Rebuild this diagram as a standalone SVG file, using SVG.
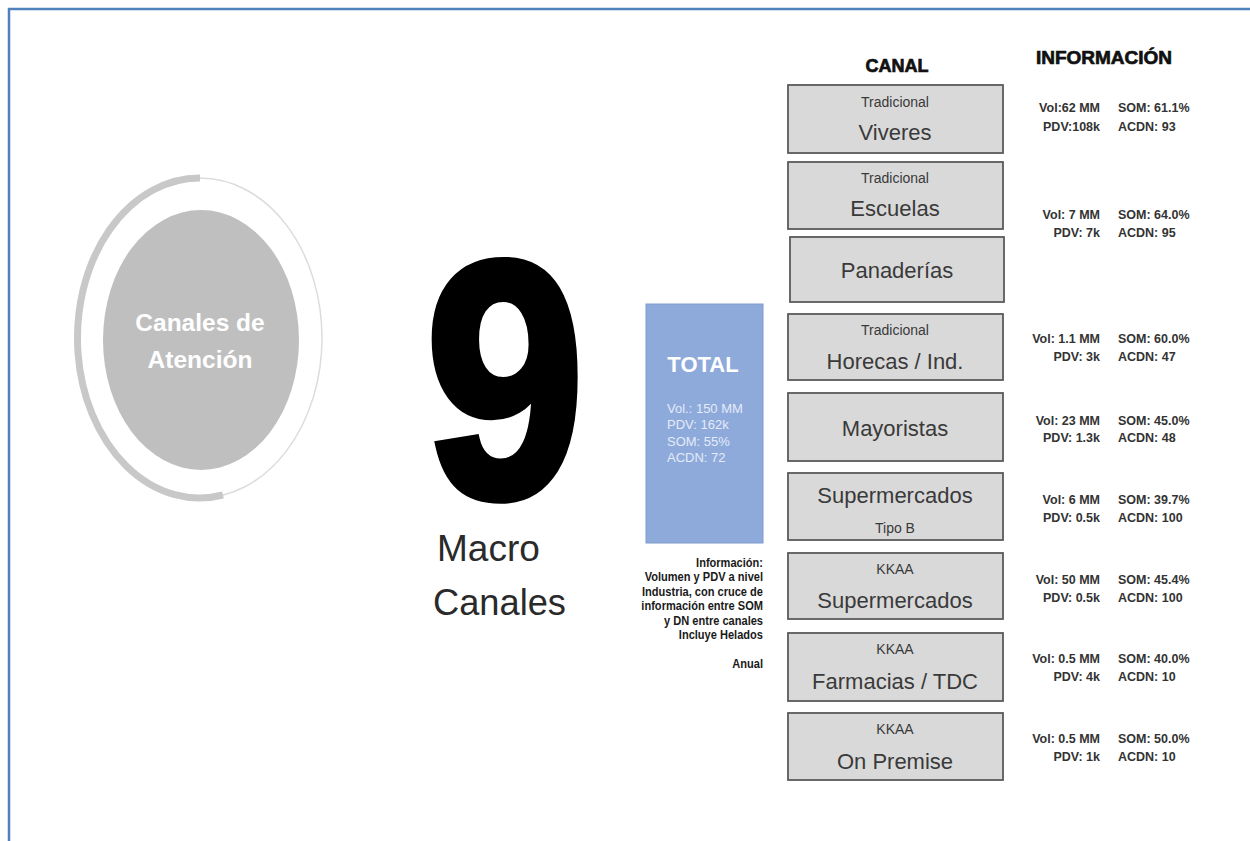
<svg xmlns="http://www.w3.org/2000/svg" width="1250" height="841" viewBox="0 0 1250 841">
<style>
.box{fill:#d9d9d9;stroke:#5a5a5a;stroke-width:1.8}
.sub{font-family:"Liberation Sans",Arial,sans-serif;font-size:14px;fill:#3a3a3a;text-anchor:middle}
.big{font-family:"Liberation Sans",Arial,sans-serif;font-size:22px;fill:#3a3a3a;text-anchor:middle}
.infl{font-family:"Liberation Sans",Arial,sans-serif;font-size:12.5px;font-weight:bold;fill:#333;text-anchor:end}
.infr{font-family:"Liberation Sans",Arial,sans-serif;font-size:12.5px;font-weight:bold;fill:#333;text-anchor:start}
.hdr{font-family:"Liberation Sans",Arial,sans-serif;font-weight:bold;fill:#111;stroke:#111;stroke-width:0.7;text-anchor:middle}
.tot{font-family:"Liberation Sans",Arial,sans-serif;font-size:13px;fill:#e4ebf8}
.note{font-family:"Liberation Sans",Arial,sans-serif;font-size:13.5px;font-weight:bold;fill:#1a1a1a;text-anchor:end}
.mc{font-family:"Liberation Sans",Arial,sans-serif;font-size:37px;fill:#2a2a2a}
</style>
<rect width="1250" height="841" fill="#ffffff"/>
<g id="frame">
<line x1="8" y1="9" x2="1250" y2="9" stroke="#4f81bd" stroke-width="2.5"/>
<line x1="9" y1="8" x2="9" y2="841" stroke="#4f81bd" stroke-width="2.5"/>
</g>
<g id="canales-atencion">
<ellipse cx="200" cy="338" rx="122" ry="160" fill="none" stroke="#dcdcdc" stroke-width="1.5"/>
<path d="M 200 178 A 122 160 0 1 0 223 495" fill="none" stroke="#c8c8c8" stroke-width="7"/>
<ellipse cx="201" cy="340" rx="98" ry="130" fill="#bfbfbf"/>
<text x="200" y="331" font-family="Liberation Sans,Arial,sans-serif" font-size="24.5" font-weight="bold" fill="#ffffff" text-anchor="middle">Canales de</text>
<text x="200" y="368" font-family="Liberation Sans,Arial,sans-serif" font-size="24.5" font-weight="bold" fill="#ffffff" text-anchor="middle">Atención</text>
</g>
<g id="nine">
<g transform="translate(505,0) scale(0.85,1)">
<text x="0" y="496" font-family="Liberation Sans,Arial,sans-serif" font-size="336" font-weight="bold" fill="#000" stroke="#000" stroke-width="9" text-anchor="middle">9</text>
</g>
<text class="mc" x="437" y="561">Macro</text>
<text class="mc" x="433" y="615" textLength="133" lengthAdjust="spacingAndGlyphs">Canales</text>
</g>
<g id="total">
<rect x="646" y="304" width="117" height="239" fill="#8eaadb" stroke="#7f9bcc" stroke-width="1"/>
<text x="703" y="372" font-family="Liberation Sans,Arial,sans-serif" font-size="22" font-weight="bold" fill="#ffffff" text-anchor="middle">TOTAL</text>
<text class="tot" x="667" y="413">Vol.: 150 MM</text>
<text class="tot" x="667" y="429">PDV: 162k</text>
<text class="tot" x="667" y="446">SOM: 55%</text>
<text class="tot" x="667" y="462">ACDN: 72</text>
</g>
<g id="nota" transform="translate(763,0) scale(0.82,1)">
<text class="note" x="0" y="567">Información:</text>
<text class="note" x="0" y="581">Volumen y PDV a nivel</text>
<text class="note" x="0" y="596">Industria, con cruce de</text>
<text class="note" x="0" y="610">información entre SOM</text>
<text class="note" x="0" y="625">y DN entre canales</text>
<text class="note" x="0" y="639">Incluye Helados</text>
<text class="note" x="0" y="668">Anual</text>
</g>
<g id="headers">
<text class="hdr" x="897" y="72" font-size="18">CANAL</text>
<text class="hdr" x="1104" y="64" font-size="19">INFORMACIÓN</text>
</g>
<g id="canal-viveres">
<rect class="box" x="788" y="85" width="215" height="68"/>
<text class="sub" x="895" y="107">Tradicional</text>
<text class="big" x="895" y="140">Viveres</text>
</g>
<g id="canal-escuelas">
<rect class="box" x="788" y="162" width="215" height="67"/>
<text class="sub" x="895" y="183">Tradicional</text>
<text class="big" x="895" y="216">Escuelas</text>
</g>
<g id="canal-panaderias">
<rect class="box" x="790" y="237" width="214" height="65"/>
<text class="big" x="897" y="278">Panaderías</text>
</g>
<g id="canal-horecas">
<rect class="box" x="788" y="314" width="215" height="66"/>
<text class="sub" x="895" y="335">Tradicional</text>
<text class="big" x="895" y="369">Horecas / Ind.</text>
</g>
<g id="canal-mayoristas">
<rect class="box" x="788" y="393" width="215" height="68"/>
<text class="big" x="895" y="436">Mayoristas</text>
</g>
<g id="canal-supermercados-b">
<rect class="box" x="788" y="473" width="215" height="67"/>
<text class="big" x="895" y="503">Supermercados</text>
<text class="sub" x="895" y="533" font-size="16">Tipo B</text>
</g>
<g id="canal-kkaa-supermercados">
<rect class="box" x="788" y="553" width="215" height="66"/>
<text class="sub" x="895" y="574">KKAA</text>
<text class="big" x="895" y="608">Supermercados</text>
</g>
<g id="canal-farmacias">
<rect class="box" x="788" y="633" width="215" height="68"/>
<text class="sub" x="895" y="654">KKAA</text>
<text class="big" x="895" y="689">Farmacias / TDC</text>
</g>
<g id="canal-on-premise">
<rect class="box" x="788" y="713" width="215" height="67"/>
<text class="sub" x="895" y="734">KKAA</text>
<text class="big" x="895" y="769">On Premise</text>
</g>
<g id="informacion">
<text class="infl" x="1100" y="112">Vol:62 MM</text><text class="infr" x="1118" y="112">SOM: 61.1%</text>
<text class="infl" x="1100" y="131">PDV:108k</text><text class="infr" x="1118" y="131">ACDN: 93</text>
<text class="infl" x="1100" y="219">Vol: 7 MM</text><text class="infr" x="1118" y="219">SOM: 64.0%</text>
<text class="infl" x="1100" y="237">PDV: 7k</text><text class="infr" x="1118" y="237">ACDN: 95</text>
<text class="infl" x="1100" y="343">Vol: 1.1 MM</text><text class="infr" x="1118" y="343">SOM: 60.0%</text>
<text class="infl" x="1100" y="361">PDV: 3k</text><text class="infr" x="1118" y="361">ACDN: 47</text>
<text class="infl" x="1100" y="425">Vol: 23 MM</text><text class="infr" x="1118" y="425">SOM: 45.0%</text>
<text class="infl" x="1100" y="442">PDV: 1.3k</text><text class="infr" x="1118" y="442">ACDN: 48</text>
<text class="infl" x="1100" y="504">Vol: 6 MM</text><text class="infr" x="1118" y="504">SOM: 39.7%</text>
<text class="infl" x="1100" y="522">PDV: 0.5k</text><text class="infr" x="1118" y="522">ACDN: 100</text>
<text class="infl" x="1100" y="584">Vol: 50 MM</text><text class="infr" x="1118" y="584">SOM: 45.4%</text>
<text class="infl" x="1100" y="602">PDV: 0.5k</text><text class="infr" x="1118" y="602">ACDN: 100</text>
<text class="infl" x="1100" y="663">Vol: 0.5 MM</text><text class="infr" x="1118" y="663">SOM: 40.0%</text>
<text class="infl" x="1100" y="681">PDV: 4k</text><text class="infr" x="1118" y="681">ACDN: 10</text>
<text class="infl" x="1100" y="743">Vol: 0.5 MM</text><text class="infr" x="1118" y="743">SOM: 50.0%</text>
<text class="infl" x="1100" y="761">PDV: 1k</text><text class="infr" x="1118" y="761">ACDN: 10</text>
</g>
<g id="connectors"/>
</svg>
